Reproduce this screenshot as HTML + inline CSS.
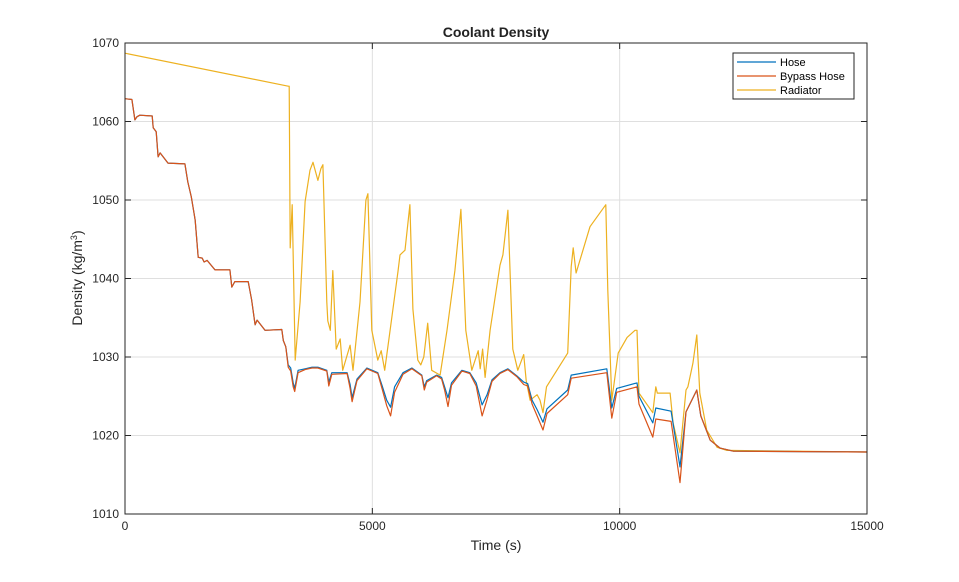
<!DOCTYPE html>
<html><head><meta charset="utf-8"><style>
body{margin:0;background:#fff;font-family:"Liberation Sans",Arial,sans-serif}
svg text{font-family:"Liberation Sans",Arial,sans-serif}
</style></head><body>
<svg id="chart" width="959" height="577" xmlns="http://www.w3.org/2000/svg">
<rect width="959" height="577" fill="#fff"/>
<text x="496" y="37" text-anchor="middle" font-size="14" font-weight="bold" fill="#222">Coolant Density</text>
<rect x="125" y="43" width="742" height="471" fill="#fff"/>
<g id="grid"></g><g id="series"></g>
<rect x="125" y="43" width="742" height="471" fill="none" stroke="#262626" stroke-width="1"/>
<g id="ticks"></g>
<text x="496" y="550" text-anchor="middle" font-size="14" fill="#262626">Time (s)</text>
<text transform="translate(82,278) rotate(-90)" text-anchor="middle" font-size="14" fill="#262626">Density  (kg/m<tspan baseline-shift="super" font-size="9">3</tspan>)</text>
<g>
<rect x="733" y="53" width="121" height="46" fill="#fff" stroke="#262626" stroke-width="1"/>
<line x1="737" y1="62" x2="776" y2="62" stroke="#0072BD" stroke-width="1.3"/>
<text x="780" y="66" font-size="11" fill="#000">Hose</text>
<line x1="737" y1="76" x2="776" y2="76" stroke="#D95319" stroke-width="1.3"/>
<text x="780" y="80" font-size="11" fill="#000">Bypass Hose</text>
<line x1="737" y1="90" x2="776" y2="90" stroke="#EDB120" stroke-width="1.3"/>
<text x="780" y="94" font-size="11" fill="#000">Radiator</text>
</g>
</svg>
<script>
const xTicks=[0,5000,10000,15000];
const yTicks=[1010,1020,1030,1040,1050,1060,1070];
const hoseTime=[0,140,200,240,300,550,570,630,670,710,870,1210,1270,1340,1390,1420,1480,1560,1600,1660,1820,2120,2160,2220,2490,2560,2630,2670,2830,3170,3200,3250,3300,3350,3400,3430,3500,3640,3780,3900,4080,4120,4180,4490,4550,4590,4690,4890,5110,5200,5290,5370,5450,5620,5800,6000,6050,6100,6300,6400,6460,6530,6600,6810,6970,7100,7220,7320,7420,7580,7740,7920,8060,8140,8230,8330,8450,8530,8950,9020,9740,9840,9940,10350,10390,10670,10730,11040,11220,11340,11560,11640,11830,12030,12300,15000];
const hoseValues=[1062.9,1062.8,1060.2,1060.6,1060.8,1060.7,1059.2,1058.7,1055.5,1056,1054.7,1054.6,1052.3,1050.4,1048.5,1047.4,1042.7,1042.6,1042.1,1042.3,1041.1,1041.1,1038.9,1039.6,1039.6,1037.3,1034.1,1034.7,1033.4,1033.5,1032.1,1031.3,1029,1028.6,1026.7,1026,1028.3,1028.5,1028.7,1028.7,1028.3,1026.8,1028,1028,1026.5,1024.8,1027.2,1028.6,1028,1026.3,1024.5,1023.6,1026.2,1028,1028.6,1027.7,1026.2,1027,1027.7,1027.4,1026.2,1024.8,1026.7,1028.3,1028,1026.7,1023.9,1025.2,1027.1,1028,1028.5,1027.6,1026.8,1026.6,1024.5,1023.3,1021.7,1023.4,1025.8,1027.7,1028.5,1023.5,1026,1026.7,1025,1021.6,1023.5,1023.1,1016,1023,1025.8,1022.5,1019.4,1018.4,1018,1017.9];
const bypassValues=[1062.9,1062.8,1060.2,1060.6,1060.8,1060.7,1059.2,1058.7,1055.5,1056,1054.7,1054.6,1052.3,1050.4,1048.5,1047.4,1042.7,1042.6,1042.1,1042.3,1041.1,1041.1,1038.9,1039.6,1039.6,1037.3,1034.1,1034.7,1033.4,1033.5,1032.1,1031.3,1028.7,1028.2,1026.2,1025.6,1028,1028.4,1028.6,1028.6,1028.2,1026.3,1027.8,1027.9,1026,1024.3,1027,1028.5,1027.9,1025.9,1023.8,1022.5,1025.5,1027.8,1028.5,1027.6,1025.8,1026.8,1027.6,1027.2,1025.8,1023.7,1026.4,1028.2,1027.9,1026.3,1022.5,1024.6,1026.9,1027.9,1028.4,1027.5,1026.5,1026.3,1024,1022.5,1020.7,1022.8,1025.2,1027.3,1028,1022.2,1025.5,1026.2,1024,1019.8,1022.1,1021.8,1014,1023,1025.8,1022.5,1019.4,1018.4,1018,1017.9];
const radTime=[0,3300,3320,3340,3380,3440,3540,3640,3740,3800,3900,3960,4000,4080,4100,4150,4200,4270,4350,4400,4480,4550,4610,4750,4870,4910,4990,5110,5180,5250,5360,5520,5560,5660,5760,5820,5920,5980,6040,6120,6200,6370,6510,6670,6790,6890,7010,7140,7180,7230,7280,7380,7580,7640,7740,7840,7940,8060,8110,8190,8330,8390,8450,8520,8950,9020,9060,9120,9400,9720,9760,9840,9970,10150,10310,10350,10390,10670,10730,10760,11020,11080,11220,11340,11380,11480,11560,11620,11760,11970,12170,15000];
const radValues=[1068.7,1064.5,1064.5,1043.9,1049.4,1029.6,1037,1049.8,1053.8,1054.8,1052.5,1054,1054.5,1037,1034.6,1033.4,1041,1031,1032.3,1028.3,1030,1031.5,1028.3,1037,1050,1050.8,1033.4,1029.6,1030.8,1028.3,1033.4,1041,1043,1043.6,1049.4,1036.1,1029.6,1029,1030,1034.3,1028.3,1027.7,1033.4,1041,1048.8,1033.4,1028.3,1030.8,1028.5,1031,1027.4,1033.4,1041.7,1043,1048.7,1031,1028.3,1030.3,1027,1024.5,1025.2,1024.5,1022.9,1026.2,1030.5,1041.5,1043.9,1040.7,1046.6,1049.4,1038.5,1024.5,1030.5,1032.5,1033.4,1033.4,1025.4,1022.9,1026.2,1025.4,1025.4,1021.6,1017.8,1025.8,1026.2,1029.2,1032.8,1025.4,1020.7,1018.5,1018.1,1017.9];
const X=t=>125+t/15000*742, Y=v=>514-(v-1010)/60*471;
const NS="http://www.w3.org/2000/svg";
const grid=document.getElementById('grid'),ticks=document.getElementById('ticks'),ser=document.getElementById('series');
function mk(tag,attrs,parent){const e=document.createElementNS(NS,tag);for(const k in attrs)e.setAttribute(k,attrs[k]);parent.appendChild(e);return e;}
xTicks.forEach(t=>{
 const g=mk('line',{x1:X(t),x2:X(t),y1:43,y2:514,stroke:'#dfdfdf','stroke-width':1},grid);
 
 
 mk('line',{x1:X(t),x2:X(t),y1:514,y2:508,stroke:'#262626'},ticks);
 mk('line',{x1:X(t),x2:X(t),y1:43,y2:49,stroke:'#262626'},ticks);
 const tx=mk('text',{x:X(t),y:530,'text-anchor':'middle','font-size':12,fill:'#262626'},ticks);
 tx.textContent=t;
 
 
});
yTicks.forEach(v=>{
 const g=mk('line',{x1:125,x2:867,y1:Y(v),y2:Y(v),stroke:'#dfdfdf','stroke-width':1},grid);
 
 
 mk('line',{x1:125,x2:131,y1:Y(v),y2:Y(v),stroke:'#262626'},ticks);
 mk('line',{x1:867,x2:861,y1:Y(v),y2:Y(v),stroke:'#262626'},ticks);
 const tx=mk('text',{x:119,y:Y(v)+4,'text-anchor':'end','font-size':12,fill:'#262626'},ticks);
 tx.textContent=v;
 
 
});
function line(ts,vs,color,name){
 const p=mk('polyline',{points:ts.map((t,i)=>X(t).toFixed(1)+','+Y(vs[i]).toFixed(1)).join(' '),fill:'none',stroke:color,'stroke-width':1.2,'stroke-linejoin':'round'},ser);
 
 
}
line(radTime,radValues,'#EDB120','radiator-line');
line(hoseTime,hoseValues,'#0072BD','hose-line');
line(hoseTime,bypassValues,'#D95319','bypass-hose-line');
</script>
</body></html>
